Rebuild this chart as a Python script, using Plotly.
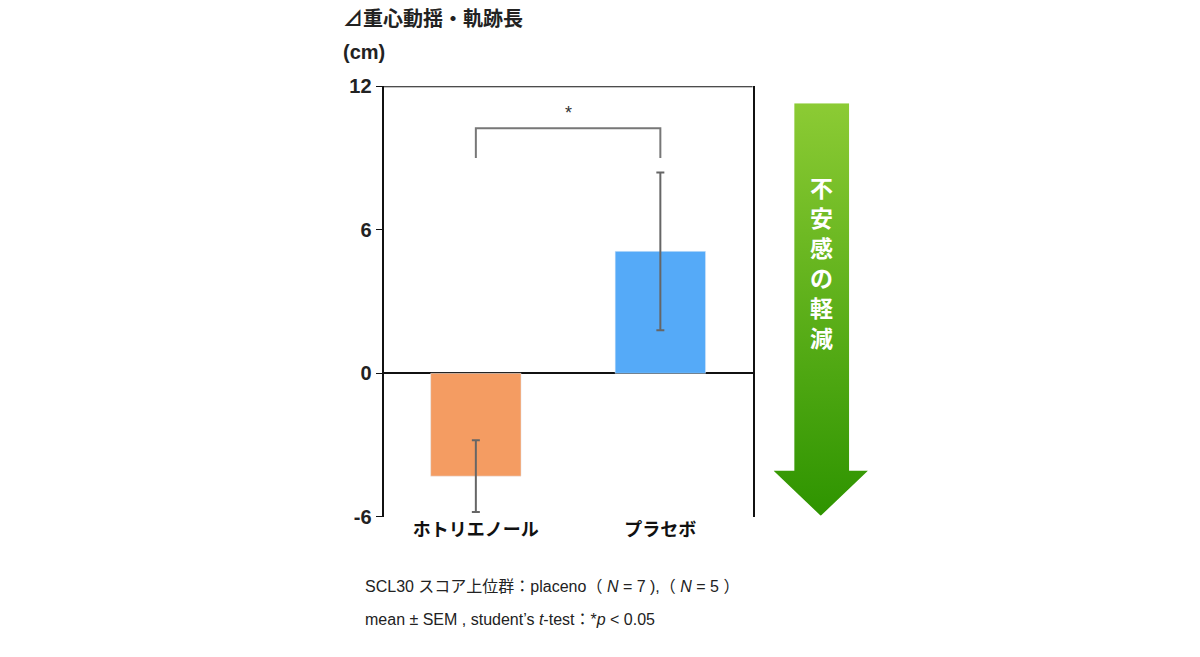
import plotly.graph_objects as go

groups = ["ホトリエノール", "プラセボ"]
means = [-4.3, 5.1]
sems = [1.5, 3.3]
bar_colors = ["#F49C62", "#55AAF8"]
y_ticks = [-6, 0, 6, 12]
y_tick_text = ["-6", "0", "6", "12"]

# arrow outline (in its own 0..1 axes)
arrow_x = [0.22, 0.80, 0.80, 1.0, 0.5, 0.0, 0.22, 0.22]
arrow_y = [1.0, 1.0, 0.109, 0.109, 0.0, 0.109, 0.109, 1.0]

FONT = "Liberation Sans, Noto Sans CJK JP"

fig = go.Figure()
fig.add_trace(go.Bar(
    x=groups, y=means, marker_color=bar_colors, width=0.49,
    error_y=dict(type="data", array=sems, color="#666666", thickness=2, width=4),
))

# significance bracket
fig.add_trace(go.Scatter(
    x=[groups[0], groups[0], groups[1], groups[1]], y=[9.0, 10.25, 10.25, 9.0],
    mode="lines", line=dict(color="#777777", width=2), hoverinfo="skip",
))
fig.add_annotation(x=0.5, y=10.9, xref="x", yref="y", text="*", showarrow=False,
                   font=dict(size=18, color="#333333"))

fig.add_trace(go.Scatter(
    x=arrow_x, y=arrow_y, xaxis="x2", yaxis="y2", mode="lines", fill="toself",
    line=dict(width=0),
    fillgradient=dict(type="vertical", colorscale=[[0, "#2E9400"], [1, "#8CCB34"]]),
    hoverinfo="skip",
))
fig.add_annotation(x=0.51, y=0.615, xref="x2 domain", yref="y2 domain",
                   text="<b>不<br>安<br>感<br>の<br>軽<br>減</b>", showarrow=False,
                   font=dict(size=23, color="white", family="Noto Sans CJK JP"))

fig.update_layout(
    width=1200, height=657, showlegend=False,
    margin=dict(l=0, r=0, t=0, b=0),
    plot_bgcolor="white", paper_bgcolor="white",
    font=dict(family=FONT, color="#222222"),
    xaxis=dict(domain=[0.313, 0.6205], range=[-0.5, 1.5], showgrid=False,
               ticks="", showline=False,
               tickvals=groups, ticktext=["<b>" + g + "</b>" for g in groups],
               tickfont=dict(size=18, color="#111111", family="Noto Sans CJK JP")),
    yaxis=dict(domain=[0.216, 0.894], range=[-6, 12], tickvals=y_ticks,
               ticktext=["<b>" + t + "</b>" for t in y_tick_text],
               showgrid=False, showline=True, linecolor="#111111", linewidth=2,
               mirror=True, ticks="outside", ticklen=6, tickcolor="#111111",
               zeroline=True, zerolinecolor="#111111", zerolinewidth=2,
               tickfont=dict(size=20, color="#222222", family="Liberation Sans")),
    xaxis2=dict(domain=[0.638, 0.7166], range=[0, 1], visible=False, anchor="y2"),
    yaxis2=dict(domain=[0.2177, 0.8675], range=[0, 1], visible=False, anchor="x2"),
)

# top border of the plot box
fig.add_shape(type="line", xref="x domain", yref="y", x0=0, x1=1, y0=12, y1=12,
              line=dict(color="#111111", width=2))

fig.add_annotation(x=0.2775, y=1.0, xref="paper", yref="paper", xanchor="left",
                   yanchor="middle", text="<b>⊿重心動揺・軌跡長</b>", showarrow=False,
                   font=dict(size=20, color="#222222"))
fig.add_annotation(x=0.2775, y=0.948, xref="paper", yref="paper", xanchor="left",
                   yanchor="middle", text="<b>(cm)</b>", showarrow=False,
                   font=dict(size=20, color="#222222"))
fig.add_annotation(x=0.296, y=0.107, xref="paper", yref="paper", xanchor="left",
                   yanchor="middle",
                   text="SCL30 スコア上位群：placeno（ <i>N</i> = 7 ),（ <i>N</i> = 5 ）",
                   showarrow=False, font=dict(size=16, color="#222222"))
fig.add_annotation(x=0.296, y=0.055, xref="paper", yref="paper", xanchor="left",
                   yanchor="middle",
                   text="mean ± SEM , student’s <i>t</i>-test：*<i>p</i> < 0.05",
                   showarrow=False, font=dict(size=16, color="#222222"))

fig.write_html("out.html")
